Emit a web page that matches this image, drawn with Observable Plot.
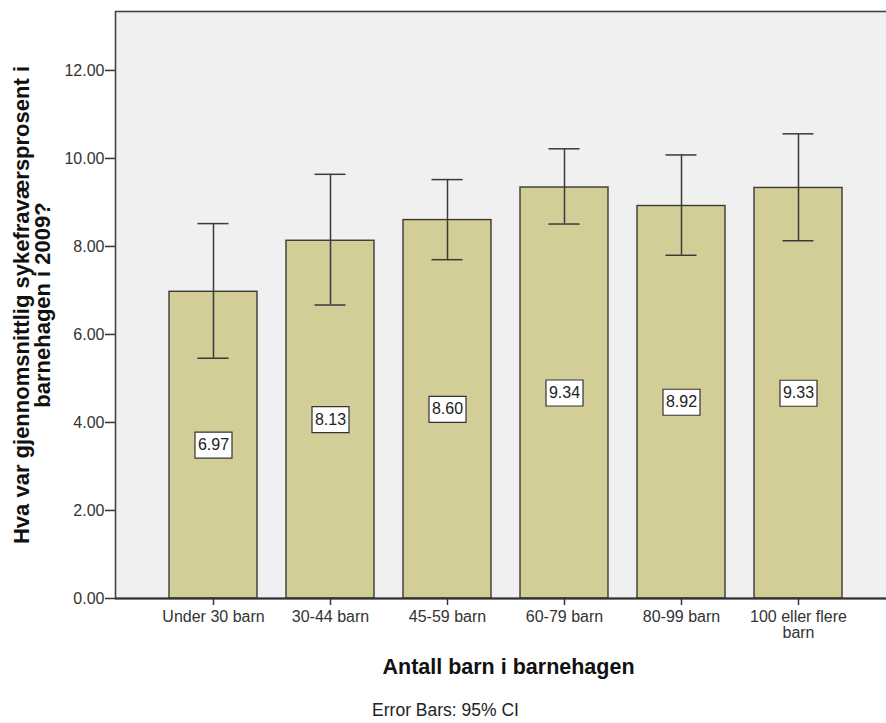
<!DOCTYPE html>
<html>
<head>
<meta charset="utf-8">
<script src="https://cdn.jsdelivr.net/npm/d3@7"></script>
<script src="https://cdn.jsdelivr.net/npm/@observablehq/plot@0.6"></script>
<style>
  html, body { margin: 0; padding: 0; background: #fff; overflow: hidden; }
  #chart svg { display: block; }
</style>
</head>
<body>
<div id="chart"></div>
<script>
const categories = ["Under 30 barn", "30-44 barn", "45-59 barn", "60-79 barn", "80-99 barn", "100 eller flere barn"];
const tickLabels = ["Under 30 barn", "30-44 barn", "45-59 barn", "60-79 barn", "80-99 barn", "100 eller flere\nbarn"];
const means = [6.97, 8.13, 8.60, 9.34, 8.92, 9.33];
const ciLower = [5.46, 6.67, 7.70, 8.51, 7.80, 8.13];
const ciUpper = [8.52, 9.64, 9.52, 10.22, 10.08, 10.56];
const yTicks = [0, 2, 4, 6, 8, 10, 12];

const yTitle = "Hva var gjennomsnittlig sykefraværsprosent i\nbarnehagen i 2009?";
const xTitle = "Antall barn i barnehagen";
const caption = "Error Bars: 95% CI";

const data = categories.map((c, i) => ({
  cat: c, mean: means[i], lo: ciLower[i], hi: ciUpper[i], half: means[i] / 2
}));
const labelOf = new Map(categories.map((c, i) => [c, tickLabels[i]]));

const boxSymbol = {
  draw(context) {
    context.moveTo(-18.5, -13);
    context.lineTo(18.5, -13);
    context.lineTo(18.5, 13);
    context.lineTo(-18.5, 13);
    context.closePath();
  }
};

const W = 886, H = 723;
const chart = Plot.plot({
  width: W,
  height: H,
  marginLeft: 115,
  marginRight: -3,
  marginTop: 11,
  marginBottom: 125,
  style: { fontFamily: "'Liberation Sans', Arial, sans-serif", fontSize: "16px", color: "#222", background: "#fff" },
  x: { domain: categories, range: [115, 896], paddingInner: 0.25, paddingOuter: 0.45, label: null },
  y: { domain: [0, 13.34], label: null },
  marks: [
    Plot.frame({ fill: "#f0f0f0" }),
    Plot.barY(data, { x: "cat", y: "mean", fill: "#d3ce97", stroke: "#3a3a32", strokeWidth: 1.4 }),
    Plot.ruleX(data, { x: "cat", y1: "lo", y2: "hi", stroke: "#3a3a3a", strokeWidth: 1.5 }),
    Plot.tickY(data, { x: "cat", y: "lo", stroke: "#3a3a3a", strokeWidth: 1.5, insetLeft: 28.5, insetRight: 28.5 }),
    Plot.tickY(data, { x: "cat", y: "hi", stroke: "#3a3a3a", strokeWidth: 1.5, insetLeft: 28.5, insetRight: 28.5 }),
    Plot.dot(data, { x: "cat", y: "half", symbol: boxSymbol, r: 10, fill: "#fff", stroke: "#333", strokeWidth: 1.2 }),
    Plot.text(data, { x: "cat", y: "half", text: d => d.mean.toFixed(2), fill: "#222", fontSize: 16 }),
    Plot.frame({ stroke: "#444", strokeWidth: 1.6 }),
    Plot.axisY({ ticks: yTicks, tickFormat: d3.format(".2f"), tickSize: 10, tickPadding: 1, stroke: "#333", strokeWidth: 1.5, fill: "#333", fontSize: 16, label: null }),
    Plot.axisX({ tickSize: 7, tickPadding: 5, tickFormat: d => labelOf.get(d), stroke: "#333", strokeWidth: 1.5, fill: "#333", fontSize: 16, lineHeight: 1.0, label: null }),
    Plot.ruleY([0], { stroke: "#333", strokeWidth: 2 }),
    Plot.text([yTitle], { frameAnchor: "left", text: d => d, rotate: -90, dx: -83, textAnchor: "middle", lineAnchor: "middle", lineHeight: 0.95, fontSize: 22, fontWeight: "bold", fill: "#111" }),
    Plot.text([xTitle], { frameAnchor: "bottom", text: d => d, dx: 6, dy: 69, textAnchor: "middle", lineAnchor: "middle", fontSize: 21.5, fontWeight: "bold", fill: "#111" }),
    Plot.text([caption], { frameAnchor: "bottom", text: d => d, dx: -57, dy: 112, textAnchor: "middle", lineAnchor: "middle", fontSize: 17.5, fill: "#222" })
  ]
});
document.getElementById("chart").appendChild(chart);
</script>
</body>
</html>
